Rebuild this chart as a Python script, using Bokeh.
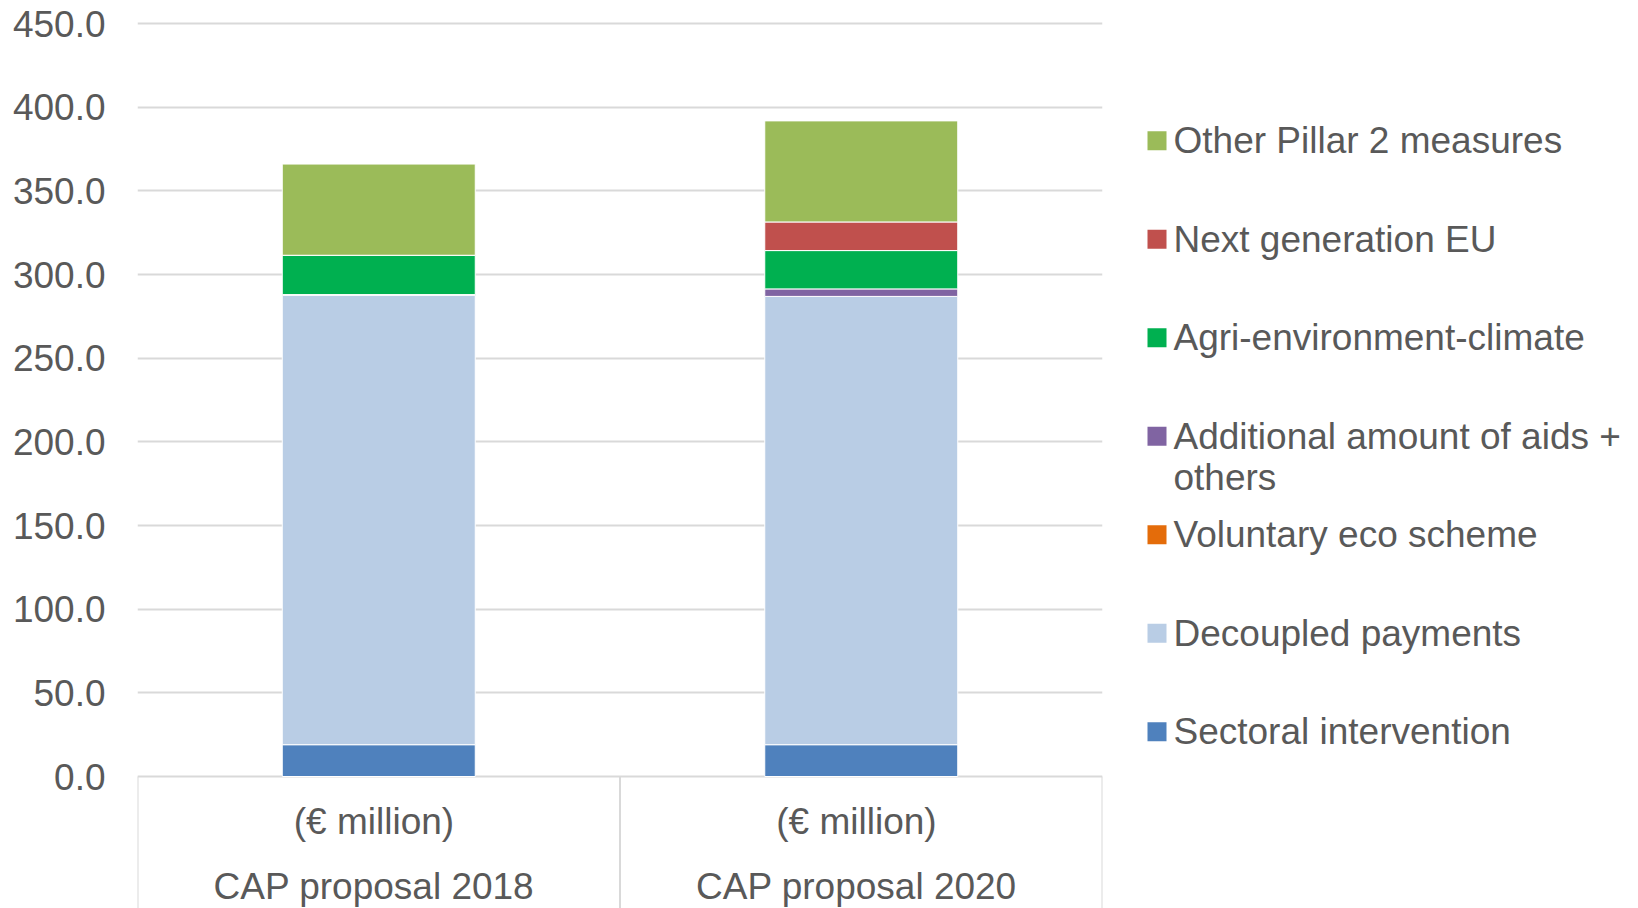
from bokeh.plotting import figure
from bokeh.layouts import row
from bokeh.models import (FactorRange, Range1d, FixedTicker, PrintfTickFormatter,
                          ColumnDataSource)
from bokeh.embed import file_html
from bokeh.resources import INLINE
from bokeh.core.properties import value

# ---------------- data ----------------
categories = ["CAP proposal 2018", "CAP proposal 2020"]
unit_labels = ["(€ million)", "(€ million)"]

series_names = [
    "Sectoral intervention",
    "Decoupled payments",
    "Voluntary eco scheme",
    "Additional amount of aids +\nothers",
    "Agri-environment-climate",
    "Next generation EU",
    "Other Pillar 2 measures",
]
sectoral_intervention = [19.0, 19.0]
decoupled_payments = [268.5, 267.9]
voluntary_eco_scheme = [0.0, 0.0]
additional_aids_others = [0.5, 4.5]
agri_environment_climate = [23.5, 22.9]
next_generation_eu = [0.0, 17.1]
other_pillar2 = [54.5, 60.4]

series_colors = ["#4F81BD", "#B9CDE5", "#E46C0A", "#8064A2", "#00B050", "#C0504D", "#9BBB59"]
y_ticks = [0, 50, 100, 150, 200, 250, 300, 350, 400, 450]

# ---------------- layout constants ----------------
FONT = "Liberation Sans"
FS = "37px"
TXT = "#595959"
GRID = "#D9D9D9"
H = 908
MAIN_W = 1103
LEG_W = 1638 - MAIN_W
LEFT, RIGHT, TOP = 137, 1, 21
PX_PER_UNIT = 753.0 / 450.0
Y_MAX = 450.0 + 2.0 / PX_PER_UNIT
Y_MIN = Y_MAX - (H - TOP) / PX_PER_UNIT
LABEL_SHIFT = -0.01   # category labels sit slightly left of the bar centre

keys = ["s0", "s1", "s2", "s3", "s4", "s5", "s6"]
series_values = [sectoral_intervention, decoupled_payments, voluntary_eco_scheme,
                 additional_aids_others, agri_environment_climate,
                 next_generation_eu, other_pillar2]

data = {"cat": categories, "unit": unit_labels,
        "lab_x": [(c, LABEL_SHIFT) for c in categories]}
for k, v in zip(keys, series_values):
    data[k] = v
source = ColumnDataSource(data)

p = figure(x_range=FactorRange(*categories, range_padding=0),
           y_range=Range1d(Y_MIN, Y_MAX),
           width=MAIN_W, height=H, output_backend="svg", toolbar_location=None,
           min_border_left=LEFT, min_border_right=RIGHT,
           min_border_top=TOP, min_border_bottom=0)
p.outline_line_color = None
p.background_fill_color = "white"
p.border_fill_color = "white"

p.vbar_stack(keys, x="cat", width=0.4, source=source,
             color=series_colors, line_color="white", line_width=1)

# axes
p.xaxis.visible = False
p.xgrid.visible = False
yax = p.yaxis[0]
yax.ticker = FixedTicker(ticks=y_ticks)
yax.formatter = PrintfTickFormatter(format="%.1f")
yax.axis_line_color = None
yax.major_tick_line_color = None
yax.minor_tick_line_color = None
yax.major_tick_out = 0
yax.major_tick_in = 0
yax.major_label_standoff = 32
yax.major_label_text_font = FONT
yax.major_label_text_font_size = FS
yax.major_label_text_color = TXT
p.ygrid.ticker = FixedTicker(ticks=y_ticks)
p.ygrid.grid_line_color = GRID
p.ygrid.grid_line_width = 2
p.ygrid.level = "underlay"

# category labels (two levels) below the zero line
p.text(x="lab_x", y=-26.9, text="unit", source=source, text_font=value(FONT),
       text_font_size=FS, text_color=TXT, text_align="center", text_baseline="middle")
p.text(x="lab_x", y=-65.5, text="cat", source=source, text_font=value(FONT),
       text_font_size=FS, text_color=TXT, text_align="center", text_baseline="middle")

# category separators
sep = ColumnDataSource({"x": [(categories[0], -0.5), (categories[1], -0.5), (categories[1], 0.5)],
                        "y0": [0, 0, 0], "y1": [Y_MIN, Y_MIN, Y_MIN]})
p.segment(x0="x", y0="y0", x1="x", y1="y1", source=sep, line_color=GRID, line_width=2)

# ---------------- legend panel (pixel coordinates, y downward) ----------------
LEG_TOP, LEG_PITCH, LINE_H = 140.3, 98.5, 41.0
SQ_X, SQ_SIZE, TXT_X = 53.5, 19, 70

order = list(reversed(range(len(series_names))))   # top entry = last series
sq = {"x": [], "y": [], "c": []}
tx = {"x": [], "y": [], "t": []}
for slot, i in enumerate(order):
    cy = LEG_TOP + slot * LEG_PITCH
    sq["x"].append(SQ_X)
    sq["y"].append(cy)
    sq["c"].append(series_colors[i])
    for ln, line in enumerate(series_names[i].split("\n")):
        tx["x"].append(TXT_X)
        tx["y"].append(cy + ln * LINE_H)
        tx["t"].append(line)

# frames of the row are aligned, so the legend frame spans the same rows as the chart frame
pl = figure(x_range=Range1d(0, LEG_W), y_range=Range1d(H, TOP),
            width=LEG_W, height=H, output_backend="svg", toolbar_location=None,
            min_border_left=0, min_border_right=0, min_border_top=TOP, min_border_bottom=0)
pl.axis.visible = False
pl.grid.visible = False
pl.outline_line_color = None
pl.background_fill_color = "white"
pl.border_fill_color = "white"
pl.rect(x="x", y="y", width=SQ_SIZE, height=SQ_SIZE, fill_color="c", line_color=None,
        source=ColumnDataSource(sq))
pl.text(x="x", y="y", text="t", source=ColumnDataSource(tx), text_font=value(FONT),
        text_font_size=FS, text_color=TXT, text_align="left", text_baseline="middle")

layout = row(p, pl, spacing=0)
open("out.html", "w").write(file_html(layout, INLINE))
